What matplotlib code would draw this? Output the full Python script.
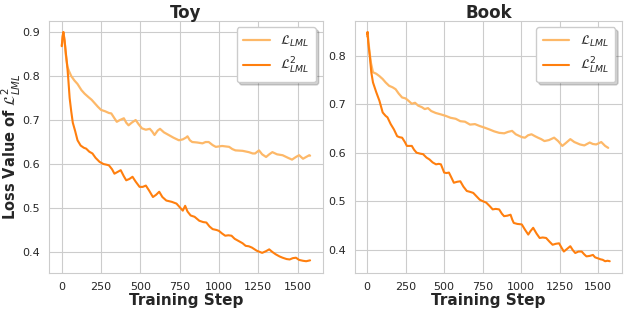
import matplotlib
matplotlib.use("Agg")

import matplotlib.pyplot as plt
import seaborn as sns

# Toy panel
toy_light_steps = [0, 5, 10, 18, 25, 35, 45, 60, 80, 100, 125, 145, 170, 190, 210, 230, 250, 275,
                   300, 315, 335, 350, 370, 395, 410, 425, 445, 470, 490, 510, 535, 560, 575, 590,
                   610, 625, 650, 680, 710, 745, 770, 790, 800, 815, 830, 860, 895, 915, 935, 960,
                   980, 1020, 1065, 1085, 1105, 1150, 1190, 1215, 1230, 1255, 1275, 1300, 1320,
                   1340, 1370, 1405, 1440, 1465, 1490, 1510, 1535, 1555, 1575, 1580]
toy_light_vals = [0.868, 0.885, 0.900, 0.880, 0.850, 0.822, 0.812, 0.800, 0.790, 0.782, 0.768,
                  0.760, 0.752, 0.746, 0.738, 0.730, 0.723, 0.720, 0.716, 0.715, 0.704, 0.696,
                  0.700, 0.704, 0.694, 0.688, 0.694, 0.700, 0.690, 0.681, 0.678, 0.680, 0.674,
                  0.666, 0.676, 0.680, 0.672, 0.666, 0.660, 0.654, 0.656, 0.660, 0.663, 0.654,
                  0.650, 0.649, 0.647, 0.650, 0.650, 0.643, 0.639, 0.641, 0.639, 0.634, 0.631,
                  0.630, 0.627, 0.624, 0.624, 0.631, 0.622, 0.616, 0.622, 0.627, 0.622, 0.620,
                  0.614, 0.610, 0.616, 0.620, 0.612, 0.616, 0.620, 0.619]

toy_dark_steps = [0, 5, 10, 18, 28, 35, 42, 50, 60, 70, 85, 100, 120, 140, 155, 175, 195, 215,
                  240, 265, 290, 300, 320, 335, 355, 375, 395, 410, 430, 450, 470, 495, 515, 535,
                  555, 580, 600, 620, 640, 665, 700, 730, 750, 770, 785, 800, 820, 845, 875, 900,
                  920, 940, 960, 985, 1000, 1020, 1040, 1060, 1080, 1100, 1125, 1150, 1170, 1190,
                  1210, 1240, 1275, 1300, 1320, 1340, 1360, 1385, 1405, 1430, 1450, 1470, 1490,
                  1510, 1535, 1555, 1580]
toy_dark_vals = [0.868, 0.890, 0.900, 0.880, 0.845, 0.822, 0.790, 0.750, 0.720, 0.694, 0.675,
                 0.654, 0.642, 0.637, 0.635, 0.628, 0.624, 0.614, 0.605, 0.600, 0.598, 0.597,
                 0.588, 0.578, 0.582, 0.586, 0.572, 0.563, 0.566, 0.571, 0.560, 0.548, 0.548,
                 0.551, 0.540, 0.525, 0.530, 0.537, 0.525, 0.517, 0.514, 0.510, 0.502, 0.494,
                 0.505, 0.492, 0.483, 0.480, 0.471, 0.468, 0.467, 0.458, 0.452, 0.450, 0.448,
                 0.442, 0.437, 0.438, 0.437, 0.430, 0.425, 0.420, 0.414, 0.413, 0.410, 0.403,
                 0.398, 0.402, 0.406, 0.400, 0.395, 0.390, 0.387, 0.384, 0.383, 0.386, 0.387,
                 0.382, 0.380, 0.379, 0.381]

# Book panel
book_light_steps = [0, 3, 8, 15, 25, 38, 59, 80, 101, 120, 143, 165, 185, 205, 227, 250, 269,
                    290, 311, 332, 355, 374, 395, 416, 445, 479, 510, 542, 575, 605, 635, 668,
                    700, 731, 760, 794, 825, 857, 890, 915, 941, 965, 985, 1005, 1025, 1045,
                    1067, 1090, 1109, 1130, 1151, 1180, 1214, 1240, 1267, 1290, 1319, 1345,
                    1382, 1410, 1445, 1465, 1487, 1520, 1545, 1565]
book_light_vals = [0.840, 0.849, 0.830, 0.810, 0.785, 0.766, 0.763, 0.758, 0.752, 0.745, 0.738,
                   0.735, 0.731, 0.722, 0.714, 0.712, 0.707, 0.701, 0.703, 0.697, 0.694, 0.690,
                   0.692, 0.686, 0.682, 0.679, 0.676, 0.672, 0.670, 0.665, 0.664, 0.658, 0.659,
                   0.655, 0.652, 0.648, 0.644, 0.641, 0.640, 0.643, 0.645, 0.638, 0.635, 0.632,
                   0.631, 0.636, 0.638, 0.634, 0.631, 0.628, 0.624, 0.626, 0.631, 0.624, 0.614,
                   0.620, 0.628, 0.622, 0.617, 0.615, 0.621, 0.618, 0.617, 0.622, 0.614, 0.610]

book_dark_steps = [0, 3, 7, 17, 27, 38, 59, 80, 101, 120, 132, 153, 174, 195, 210, 227, 245, 258,
                   275, 290, 305, 321, 345, 363, 385, 405, 425, 447, 465, 479, 500, 515, 531, 545,
                   563, 585, 605, 625, 647, 670, 689, 710, 731, 750, 773, 795, 815, 835, 857, 875,
                   889, 910, 931, 942, 952, 975, 1004, 1025, 1046, 1060, 1078, 1100, 1120, 1140,
                   1162, 1185, 1204, 1225, 1246, 1262, 1277, 1300, 1319, 1335, 1351, 1372, 1393,
                   1410, 1424, 1445, 1466, 1480, 1498, 1515, 1529, 1545, 1561, 1575]
book_dark_vals = [0.845, 0.849, 0.828, 0.800, 0.766, 0.745, 0.725, 0.707, 0.683, 0.676, 0.673,
                  0.659, 0.648, 0.634, 0.632, 0.631, 0.622, 0.614, 0.614, 0.614, 0.606, 0.600,
                  0.598, 0.597, 0.590, 0.586, 0.580, 0.576, 0.577, 0.576, 0.559, 0.558, 0.559,
                  0.550, 0.538, 0.540, 0.541, 0.530, 0.521, 0.519, 0.517, 0.510, 0.503, 0.500,
                  0.497, 0.490, 0.483, 0.484, 0.483, 0.474, 0.469, 0.470, 0.472, 0.462, 0.455,
                  0.453, 0.452, 0.441, 0.431, 0.438, 0.445, 0.433, 0.424, 0.425, 0.424, 0.416,
                  0.410, 0.412, 0.413, 0.404, 0.396, 0.402, 0.407, 0.399, 0.393, 0.396, 0.396,
                  0.390, 0.386, 0.387, 0.389, 0.384, 0.382, 0.380, 0.379, 0.376, 0.377, 0.376]

titles = ["Toy", "Book"]
labels = [r"$\mathcal{L}_{LML}$", r"$\mathcal{L}^2_{LML}$"]
light_color = "#fdb868"
dark_color = "#ff7f0e"

sns.set_style("whitegrid")
plt.rcParams["font.family"] = ["DejaVu Sans"]

fig = plt.figure(figsize=(6.25, 3.12), dpi=100)
ax_toy = fig.add_axes([0.079, 0.126, 0.437, 0.808])
ax_book = fig.add_axes([0.568, 0.126, 0.427, 0.808])

panels = [
    (ax_toy, toy_light_steps, toy_light_vals, toy_dark_steps, toy_dark_vals),
    (ax_book, book_light_steps, book_light_vals, book_dark_steps, book_dark_vals),
]

for (ax, ls, lv, ds, dv), title in zip(panels, titles):
    ax.plot(ls, lv, color=light_color, lw=1.6, label=labels[0])
    ax.plot(ds, dv, color=dark_color, lw=1.5, label=labels[1])
    ax.set_title(title, fontsize=12, fontweight="bold", pad=2)
    ax.set_xlabel("Training Step", fontsize=11, fontweight="bold", labelpad=1)
    ax.set_xticks([0, 250, 500, 750, 1000, 1250, 1500])
    ax.tick_params(labelsize=8, pad=3)
    ax.legend(loc="upper right", fontsize=9.5, frameon=True,
              shadow={"alpha": 0.25}, borderpad=0.5)

ax_toy.set_ylabel(r"Loss Value of $\mathcal{L}^2_{LML}$", fontsize=10.5, fontweight="bold",
                  labelpad=0)

fig.savefig("out.png", dpi=100)
